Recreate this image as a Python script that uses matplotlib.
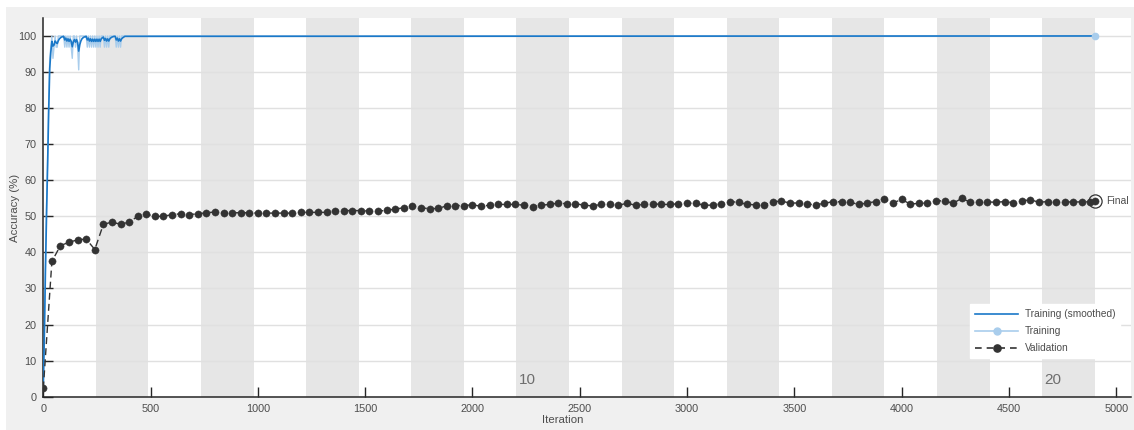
import numpy as np
import matplotlib
matplotlib.use("Agg")
import matplotlib.pyplot as plt
from matplotlib.patches import Rectangle
from matplotlib.lines import Line2D

plt.rcParams['font.family'] = ['Liberation Sans', 'DejaVu Sans']

# ---- data -------------------------------------------------------------
iters_per_epoch = 245
n_epochs = 20
epoch_labels = ["10", "20"]

# mini-batch training accuracy (early iterations; flat at 100 afterwards)
train_iters = list(range(0, 381, 5)) + [4900]
train_raw = [3.1, 18.8, 37.5, 53.1, 65.6, 81.3, 93.8, 96.9, 100, 93.8,
             96.9, 100, 96.9, 96.9, 100, 100, 100, 100, 100, 100,
             96.9, 100, 96.9, 100, 96.9, 100, 96.9, 93.8, 100, 100,
             96.9, 100, 96.9, 90.6, 100, 100, 100, 100, 100, 100,
             100, 96.9, 100, 96.9, 100, 96.9, 100, 96.9, 100, 96.9,
             100, 96.9, 100, 96.9, 100, 100, 100, 96.9, 100, 96.9,
             100, 96.9, 100, 100, 100, 100, 100, 100, 96.9, 100,
             96.9, 100, 96.9, 100, 100, 100, 100, 100]
train_smooth = [3.1, 17, 35, 50, 64, 79, 91, 95.5, 98.5, 97.2,
                97.5, 98.6, 98.2, 97.9, 98.7, 99.2, 99.5, 99.7, 99.8, 99.9,
                98.9, 99.4, 98.6, 99.2, 98.5, 99.1, 98.5, 97.0, 98.4, 99.0,
                98.3, 99.0, 98.2, 95.8, 97.6, 98.6, 99.2, 99.5, 99.7, 99.8,
                99.9, 98.9, 99.4, 98.6, 99.2, 98.5, 99.1, 98.5, 99.1, 98.5,
                99.1, 98.5, 99.1, 98.5, 99.2, 99.5, 99.7, 98.8, 99.3, 98.6,
                99.2, 98.6, 99.2, 99.5, 99.7, 99.8, 99.9, 99.9, 98.9, 99.4,
                98.6, 99.2, 98.6, 99.2, 99.5, 99.7, 99.9, 100]

# validation accuracy, evaluated every 40 iterations plus the final iteration
val_iters = list(range(0, 4881, 40)) + [4900]
val_acc = [2.3, 37.5, 41.9, 42.8, 43.5, 43.7, 40.8, 47.8, 48.4, 47.8,
           48.4, 50.0, 50.6, 50.0, 50.0, 50.5, 50.7, 50.5, 50.7, 51.0,
           51.2, 51.0, 51.0, 51.0, 51.0,
           50.9, 50.9, 50.9, 50.9, 50.9, 51.1, 51.1, 51.1, 51.1, 51.6,
           51.6, 51.6, 51.6, 51.5, 51.4, 51.7, 52.0, 52.4, 53.0, 52.4,
           52.1, 52.2, 52.9, 53.0, 53.0, 53.2,
           52.8, 53.1, 53.3, 53.3, 53.3, 53.1, 52.6, 53.1, 53.3, 53.7,
           53.5, 53.5, 53.1, 52.9, 53.3, 53.3, 53.1, 53.6, 53.1, 53.3,
           53.5, 53.3, 53.3, 53.5, 53.7,
           53.6, 53.1, 53.1, 53.5, 54.1, 53.9, 53.3, 53.2, 53.1, 54.1,
           54.2, 53.7, 53.7, 53.4, 53.2, 53.6, 54.1, 54.0, 53.9, 53.3,
           53.7, 54.1, 54.7, 53.7, 54.7, 53.4,
           53.6, 53.7, 54.3, 54.3, 53.6, 55.0, 53.9, 53.9, 54.0, 53.9,
           54.1, 53.8, 54.3, 54.6, 53.9, 54.1, 54.1, 54.0, 54.0, 54.0,
           54.1, 54.3]

# ---- style ------------------------------------------------------------
c_smooth = "#1a78c8"
c_raw = "#a9cdec"
c_val = "#333333"
c_text = "#4d4d4d"
c_band = "#e6e6e6"

W, H = 1134, 430
fig = plt.figure(figsize=(W / 100, H / 100), dpi=100, facecolor="white")

# light grey panel behind the axes
fig.patches.append(Rectangle((5.7 / W, 0), 1 - 5.7 / W, 1 - 7.3 / H,
                             transform=fig.transFigure, facecolor="#f0f0f0",
                             edgecolor="none", zorder=-5))

left, right = 43.3 / W, 1131 / W
bottom, top = 1 - 396.7 / H, 1 - 18.3 / H
ax = fig.add_axes([left, bottom, right - left, top - bottom])
ax.set_zorder(2)
ax.set_facecolor("white")
ax.set_xlim(0, 5069)
ax.set_ylim(0, 104.9)

# alternating epoch shading
for k in range(2, n_epochs + 1, 2):
    ax.axvspan((k - 1) * iters_per_epoch, k * iters_per_epoch,
               color=c_band, lw=0, zorder=0)
for lab in epoch_labels:
    k = int(lab)
    ax.text((k - 1) * iters_per_epoch + 12, 2.6, lab, fontsize=11,
            color="#6e6e6e", ha="left", va="bottom", zorder=1)

ax.set_yticks(range(0, 101, 10))
ax.set_xticks(range(0, 5001, 500))
ax.yaxis.grid(True, color="#e0e0e0", lw=1.0, zorder=0.5)
ax.set_axisbelow(True)

ax.plot(train_iters, train_raw, color=c_raw, lw=1.0, zorder=2)
ax.plot(train_iters, train_smooth, color=c_smooth, lw=1.2, zorder=3)
ax.plot([train_iters[-1]], [train_raw[-1]], 'o', color=c_raw, ms=4.5,
        zorder=3)
ax.plot(val_iters, val_acc, '--', color=c_val, lw=1.0, dashes=(5, 3),
        marker='o', ms=5.2, mfc=c_val, mec=c_val, mew=0.3, zorder=4)
ax.plot([val_iters[-1]], [val_acc[-1]], 'o', ms=9.5, mfc="none",
        mec=c_val, mew=0.9, zorder=5)
ax.text(val_iters[-1] + 55, val_acc[-1], "Final", fontsize=7.5,
        color=c_text, ha="left", va="center", zorder=5)

for s in ("top", "right"):
    ax.spines[s].set_visible(False)
for s in ("left", "bottom"):
    ax.spines[s].set_color("#262626")
    ax.spines[s].set_linewidth(1.1)
ax.tick_params(direction="in", length=7, width=1.0, color="#262626",
               labelsize=7.8, labelcolor=c_text, pad=5)

ax.set_xlabel("Iteration", fontsize=8.2, color=c_text)
ax.set_ylabel("Accuracy (%)", fontsize=8.2, color=c_text)
ax.xaxis.set_label_coords((563 - 43.3) / 1087.7, -(420 - 396.7) / 378.4)
ax.yaxis.set_label_coords(-(43.3 - 15) / 1087.7, (396.7 - 208) / 378.4)
ax.xaxis.label.set_va("center")
ax.yaxis.label.set_va("center")

handles = [
    Line2D([], [], color=c_smooth, lw=1.2),
    Line2D([], [], color=c_raw, lw=1.2, marker='o', ms=5),
    Line2D([], [], color=c_val, lw=1.2, ls='--', dashes=(4, 3),
           marker='o', ms=5.2),
]
leg = ax.legend(handles, ["Training (smoothed)", "Training", "Validation"],
                loc="upper right", bbox_to_anchor=(0.99, 0.245),
                fontsize=7.3, frameon=True, fancybox=False, handlelength=4.3,
                labelspacing=0.7, borderpad=0.5, handletextpad=0.6,
                borderaxespad=0)
leg.get_frame().set_facecolor("white")
leg.get_frame().set_edgecolor("white")
leg.get_frame().set_alpha(1)
for t in leg.get_texts():
    t.set_color(c_text)

fig.savefig("out.png", dpi=100, facecolor="white")
